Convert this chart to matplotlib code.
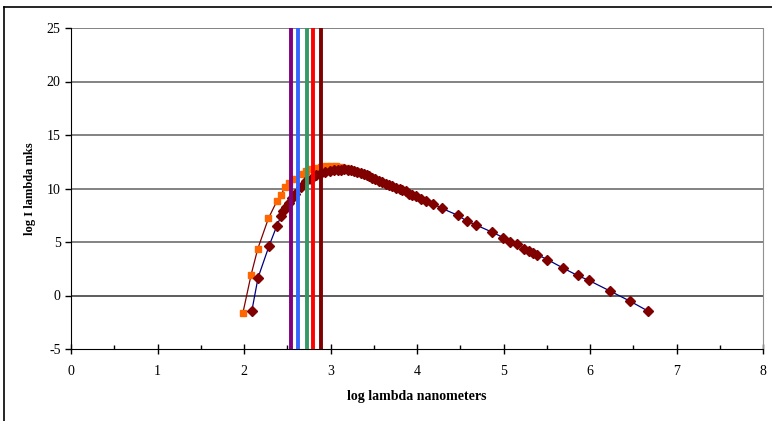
import matplotlib.pyplot as plt
from matplotlib.lines import Line2D
from matplotlib.ticker import MultipleLocator

plt.rcParams['font.family'] = ['Liberation Serif', 'DejaVu Serif']
plt.rcParams['axes.unicode_minus'] = False

# orange squares series
x_sq = [1.986, 2.083, 2.159, 2.283, 2.382, 2.428, 2.475, 2.517, 2.582, 2.663,
        2.717, 2.778, 2.832, 2.893, 2.947, 3.005, 3.063, 3.12, 3.18, 3.24, 3.30]
y_sq = [-1.68, 1.96, 4.36, 7.22, 8.85, 9.41, 10.12, 10.53, 10.90, 11.37,
        11.60, 11.78, 11.90, 12.03, 12.08, 12.12, 12.08, 12.00, 11.88, 11.75, 11.60]

# dark red diamonds series
x_dm = [2.090, 2.163, 2.290, 2.378, 2.428, 2.455, 2.486, 2.517, 2.551, 2.594,
        2.655, 2.717, 2.775, 2.832, 2.878, 2.936, 2.994, 3.040, 3.082, 3.120,
        3.158, 3.20, 3.235, 3.27, 3.312, 3.35, 3.389, 3.42, 3.447, 3.485,
        3.52, 3.56, 3.60, 3.64, 3.68, 3.716, 3.76, 3.80, 3.83, 3.87,
        3.908, 3.945, 3.985, 4.043, 4.100, 4.184, 4.285, 4.469, 4.580, 4.680,
        4.868, 4.996, 5.080, 5.160, 5.233, 5.291, 5.337, 5.387, 5.507, 5.683,
        5.856, 5.983, 6.236, 6.463, 6.674]
y_dm = [-1.46, 1.68, 4.64, 6.48, 7.41, 7.88, 8.25, 8.66, 9.13, 9.50,
        10.15, 10.68, 10.93, 11.24, 11.40, 11.56, 11.68, 11.70, 11.72, 11.76,
        11.80, 11.75, 11.71, 11.64, 11.56, 11.46, 11.37, 11.26, 11.15, 11.00,
        10.88, 10.73, 10.58, 10.44, 10.30, 10.21, 10.08, 9.98, 9.90, 9.75,
        9.53, 9.40, 9.28, 9.03, 8.81, 8.57, 8.16, 7.50, 6.94, 6.60,
        5.92, 5.42, 4.98, 4.77, 4.39, 4.14, 3.99, 3.83, 3.36, 2.59,
        1.87, 1.43, 0.40, -0.53, -1.47]

# vertical marker lines
v_x = [2.544, 2.628, 2.724, 2.801, 2.886]
v_colors = ['#800080', '#3366FF', '#339966', '#FF0000', '#800000']

fig = plt.figure(figsize=(7.72, 4.21), dpi=100)
ax = fig.add_axes([71 / 772, 1 - 349 / 421, (763 - 71) / 772, (349 - 28) / 421])

ax.plot(x_sq, y_sq, color='#800000', lw=0.9, marker='s', ms=4.5,
        mfc='#FF6600', mec='#FF6600', zorder=3)
ax.plot(x_dm, y_dm, color='#000080', lw=0.9, marker='D', ms=5.5,
        mfc='#800000', mec='#800000', zorder=4)
for xv, c in zip(v_x, v_colors):
    ax.axvline(xv, color=c, lw=2.8, zorder=5)

ax.set_xlim(0, 8)
ax.set_ylim(-5, 25)
ax.xaxis.set_major_locator(MultipleLocator(1))
ax.xaxis.set_minor_locator(MultipleLocator(0.5))
ax.yaxis.set_major_locator(MultipleLocator(5))
ax.tick_params(axis='x', which='major', direction='inout', length=7, width=1, labelsize=10, pad=8)
ax.tick_params(axis='x', which='minor', direction='in', length=3, width=1)
ax.tick_params(axis='y', which='major', direction='out', length=4, width=1, labelsize=10)

for y in range(0, 26, 5):
    ax.axhline(y, color='#303030' if y == 0 else '#606060', lw=1.1, zorder=1)

ax.spines['top'].set_visible(False)
ax.spines['right'].set_color('#909090')
ax.spines['left'].set_color('black')
ax.spines['bottom'].set_color('black')

ax.set_xlabel('log lambda nanometers', fontsize=10, fontweight='bold', labelpad=9)
ax.set_ylabel('log I lambda mks', fontsize=9, fontweight='bold', labelpad=8)

# outer frame (only top and left visible)
fig.add_artist(Line2D([4 / 772, 1], [1 - 6.5 / 421, 1 - 6.5 / 421], color='black', lw=1.2))
fig.add_artist(Line2D([4 / 772, 4 / 772], [0, 1 - 6.5 / 421], color='black', lw=1.2))

fig.savefig('out.png', dpi=100)
